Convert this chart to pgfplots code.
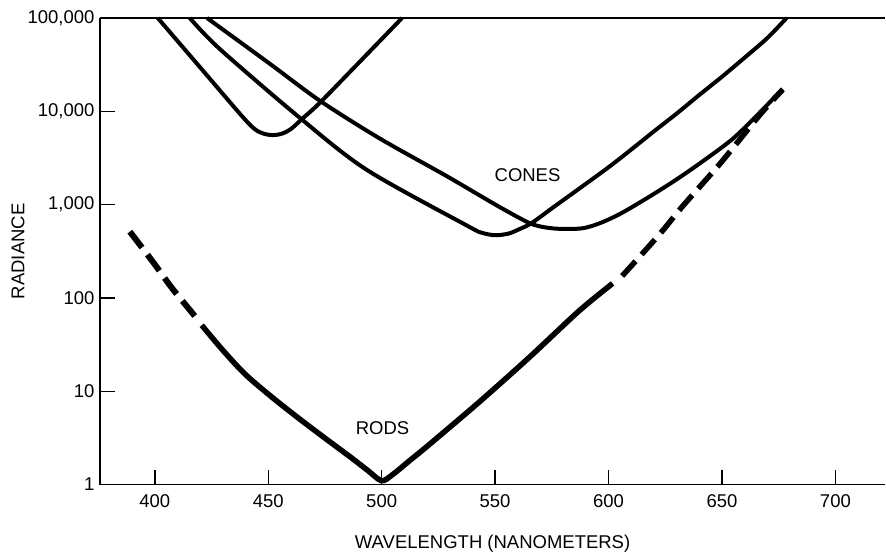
\documentclass[border=0pt]{standalone}
\usepackage{pgfplots}
\pgfplotsset{compat=1.18}
\usepackage{fontspec}
\setmainfont{Liberation Sans}
\newcommand{\chartfont}{\fontsize{18.5}{22}\selectfont}
\begin{document}
\begin{tikzpicture}
\begin{axis}[
  scale only axis, width=786pt, height=467pt,
  xmin=375.8, xmax=722,
  ymode=log, log basis y=10, ymin=1, ymax=100000,
  axis x line=bottom, axis y line=left,
  axis line style={-, line width=1.4pt, black},
  xtick={400,450,500,550,600,650,700},
  xticklabels={400,450,500,550,600,650,700},
  ytick={1,10,100,1000,10000,100000},
  yticklabels={1,10,100,{1,000},{10,000},{100,000}},
  yminorticks=false, xminorticks=false,
  tick align=inside, major tick length=15pt,
  tick style={line width=1.4pt, black},
  tick label style={font=\chartfont},
  xticklabel style={yshift=-6pt},
  yticklabel style={xshift=-2pt},
  xlabel={WAVELENGTH (NANOMETERS)}, ylabel={RADIANCE},
  every axis x label/.style={at={(axis description cs:0.5,-0.107)}, anchor=north, inner sep=0pt, font=\chartfont},
  every axis y label/.style={at={(axis description cs:-0.1043,0.5)}, rotate=90, anchor=center, inner sep=0pt, font=\chartfont},
  clip=false,
]
% blue cone
\addplot[black, line width=4pt, smooth] coordinates {
(401.3,100000) (420,29512) (438,9120) (444,6457) (448,5754) (452,5559) (456,5754) (460,6457) (465,8318) (472.7,12303) (490,33266) (509,100000)};
% green cone
\addplot[black, line width=4pt, smooth] coordinates {
(415.4,100000) (428.6,46600) (463.9,8520) (493.4,2360) (537.5,598) (544,501) (550,470) (556,490) (561,550) (566,631) (575,912) (587,1479) (600,2512) (610,3890) (620,6095) (630,9441) (640,14962) (650,23442) (660,37584) (670,60953) (678.5,100000)};
% red cone
\addplot[black, line width=4pt, smooth] coordinates {
(423,100000) (450.7,32300) (472.7,13000) (499.1,5120) (528.5,2030) (550.5,988) (563.7,659) (569,590) (575.5,556) (582,548) (589,560) (596,630) (605,794) (617,1175) (630,1862) (643,3090) (655,5129) (666,9333) (676.7,17378)};
% rods, dashed left part
\addplot[black, line width=6pt, smooth, dash pattern=on 20pt off 9pt] coordinates {
(389,513) (399.3,241) (407.3,130) (415.4,74.6) (417.6,64)};
% rods, solid part
\addplot[black, line width=5.5pt, smooth] coordinates {
(420.7,51) (430,27.5) (440,15.1) (452,8.51) (464,5.01) (476,3.02) (487,1.91) (494,1.41) (500,1.1) (505,1.29) (512,1.78) (521,2.69) (543,7.67) (565,23) (587,72.6) (601.8,143)};
% rods, dashed right part
\addplot[black, line width=5.5pt, smooth, dash pattern=on 20pt off 9pt] coordinates {
(606,172) (615,300) (624,531) (632.7,964) (649.6,2830) (666.5,9040) (676.8,17100)};
\node[font=\chartfont] at (axis cs:564.3,2090) {CONES};
\node[font=\chartfont] at (axis cs:500.4,4.0) {RODS};
\draw[line width=1.4pt] (axis description cs:0,1) -- (axis description cs:1,1);
\path (axis description cs:-0.1272,-0.1478) rectangle (axis description cs:1,1.0385);
\end{axis}
\end{tikzpicture}
\end{document}
